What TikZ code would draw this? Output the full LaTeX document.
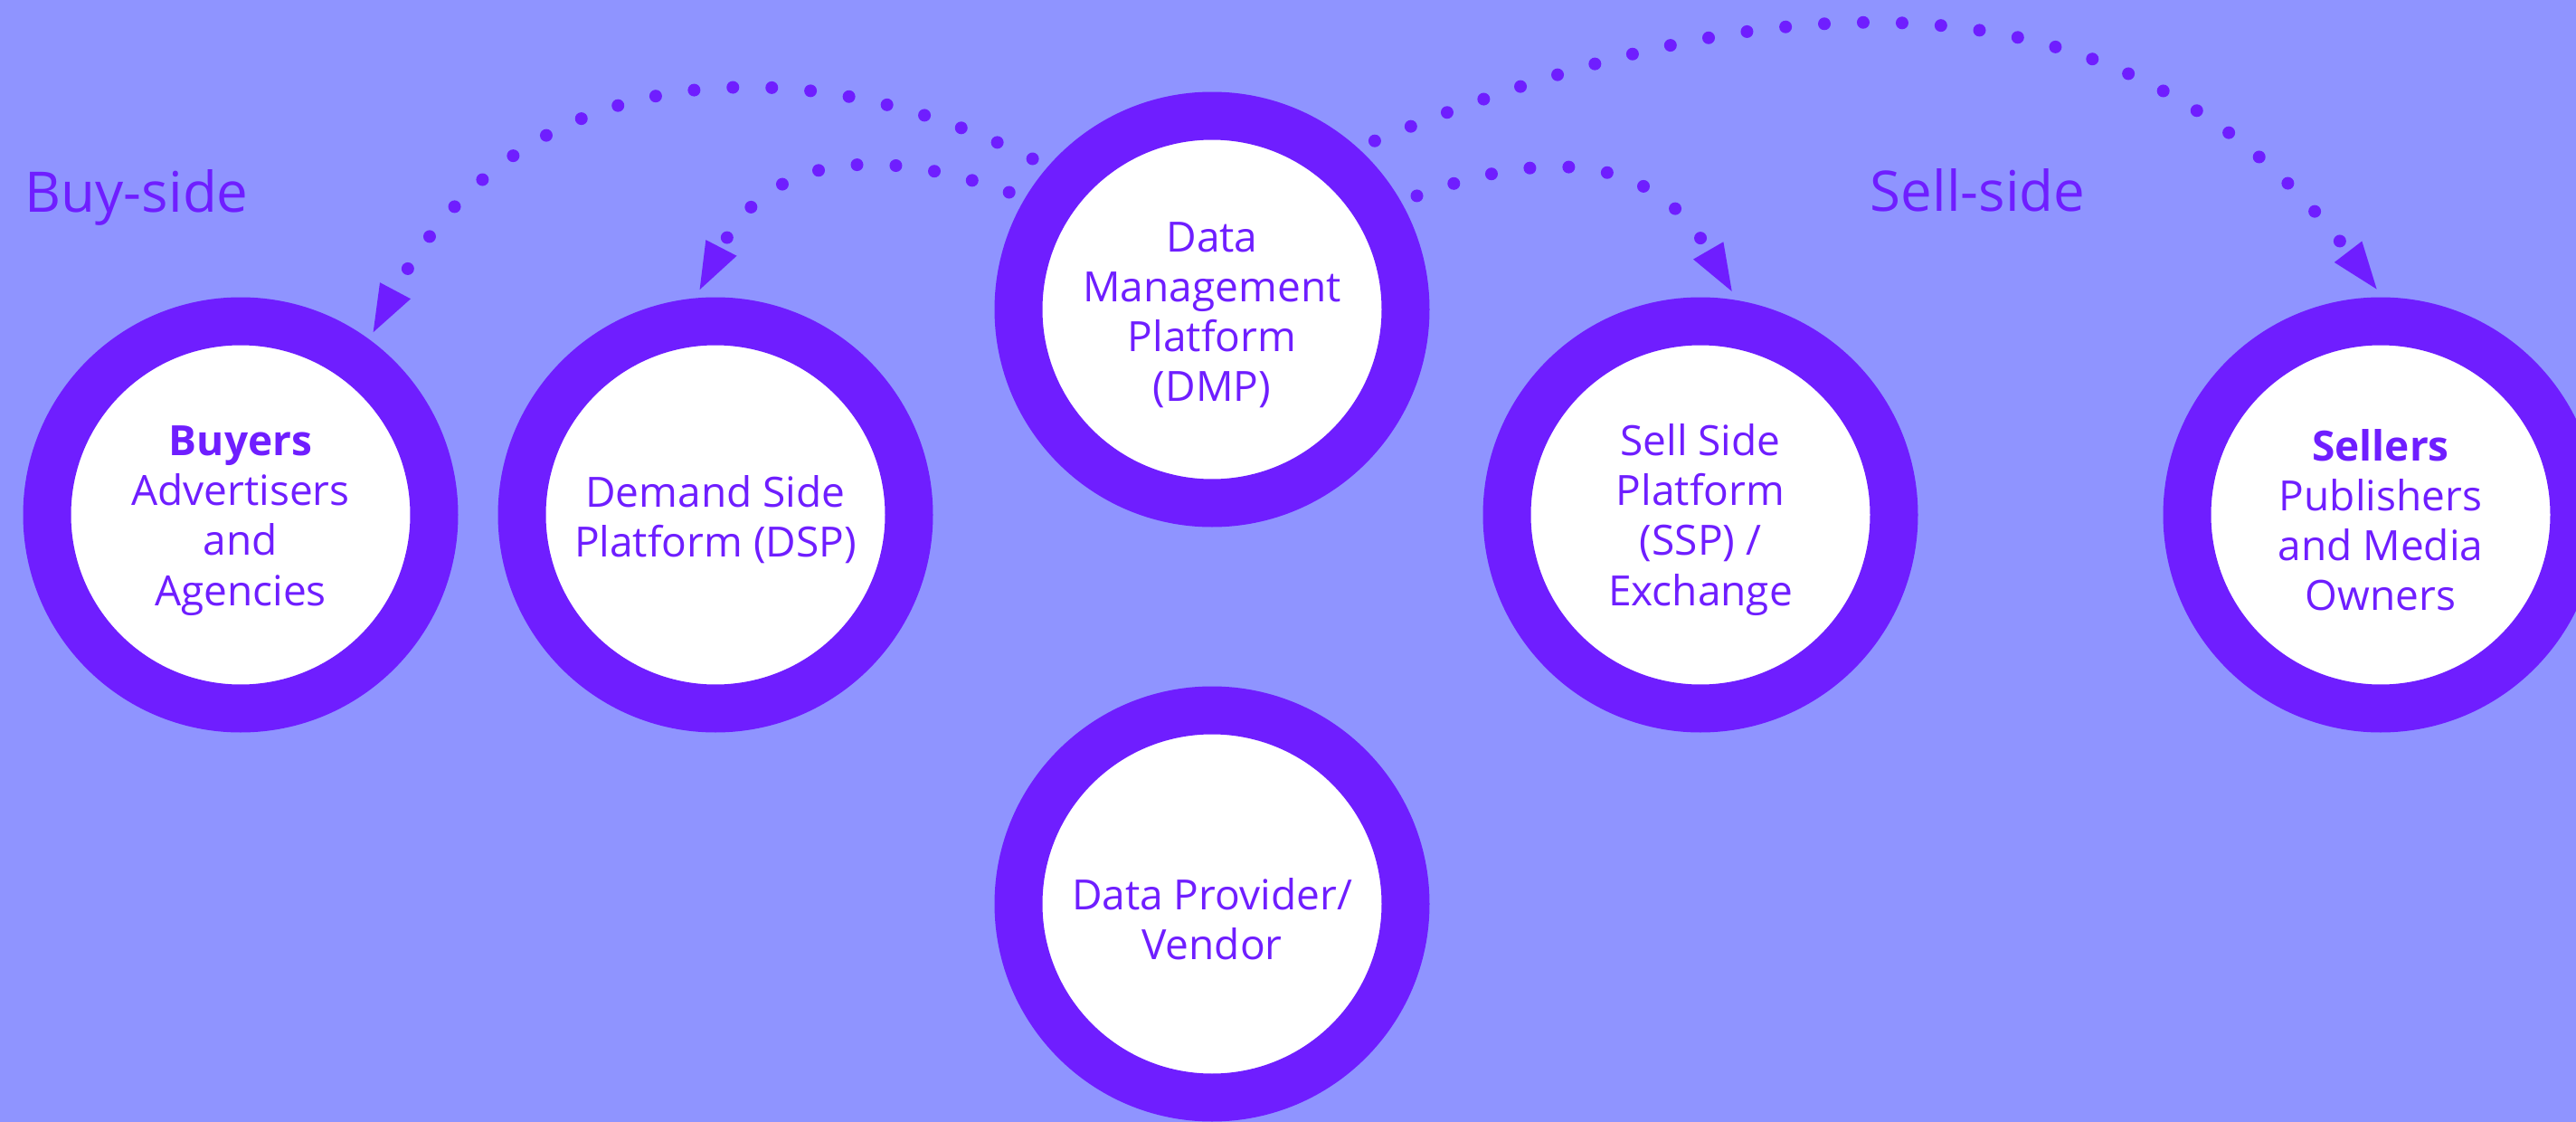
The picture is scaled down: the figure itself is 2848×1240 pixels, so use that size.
\documentclass[tikz,border=0pt]{standalone}
\usepackage{fontspec}
\setmainfont{Open Sans}
\usetikzlibrary{arrows.meta}
\definecolor{bgblue}{RGB}{143,148,255}
\definecolor{vio}{RGB}{111,30,255}
\newcommand\topstrut{\rule{0pt}{1.0em}}
\begin{document}
\begin{tikzpicture}[x=0.1mm,y=-0.1mm,
  ring/.style={circle, draw=vio, fill=white, line width=5.3mm, minimum size=42.8mm,
    inner sep=0pt, outer sep=3.55mm, text=vio, align=center,
    font=\fontsize{13.1pt}{15.65pt}\selectfont},
  ringtext/.style={text=vio, align=center, inner sep=0pt,
    font=\fontsize{13.1pt}{15.65pt}\selectfont},
  sidelabel/.style={text=vio, inner sep=0pt, anchor=base west,
    font=\fontsize{17.6pt}{20pt}\selectfont},
  dotarrow/.style={draw=vio, line width=1.4mm, line cap=round,
    dash pattern=on 0pt off 4.3mm,
    -{Triangle[length=5.2mm,width=3.85mm,line width=0pt]}}
]
\fill[bgblue] (0,0) rectangle (2848,1240);
\useasboundingbox (0,0) rectangle (2848,1240);

\node[sidelabel] (buyside) at (27,234) {Buy-side};
\node[sidelabel] (sellside) at (2067,233) {Sell-side};

\node[ring] (buyers) at (266,569) {\topstrut\textbf{Buyers}\\Advertisers\\and\\Agencies};
\node[ring] (dsp) at (791,569) {\topstrut Demand Side\\Platform (DSP)};
\node[ring, outer sep=4.5mm] (dmp) at (1340,342) {\topstrut Data\\Management\\Platform\\(DMP)};
\node[ring] (ssp) at (1880,569) {\topstrut Sell Side\\Platform\\(SSP) /\\Exchange};
\node[ring] (sellers) at (2632,569) {\topstrut\textbf{Sellers}\\Publishers\\and Media\\Owners};
\node[ring] (vendor) at (1340,999) {};
\node[ringtext] (vendortext) at (1340,1016) {Data Provider/\\Vendor};

\draw[dotarrow] (dmp.140.9) .. controls (871.6,41.5) and (570.7,69.5) .. (buyers.54.4);
\draw[dotarrow] (dmp.150.6) .. controls (968.7,160.1) and (850.7,170.8) .. (dsp.94.6);
\draw[dotarrow] (dmp.29) .. controls (1713.3,162.1) and (1828.6,172.9) .. (ssp.82.6);
\draw[dotarrow] (dmp.46.6) .. controls (1793.2,44) and (2290.1,-121.9) .. (sellers.91.8);
\end{tikzpicture}
\end{document}
